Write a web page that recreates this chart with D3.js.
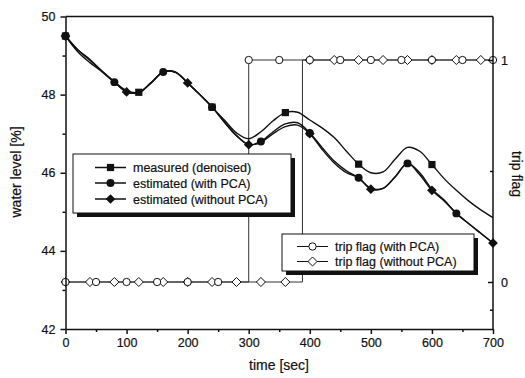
<!DOCTYPE html>
<html>
<head>
<meta charset="utf-8">
<script src="https://cdn.jsdelivr.net/npm/d3@7"></script>
<style>
  body { margin: 0; background: #fff; }
  svg text { font-family: "Liberation Sans", Arial, sans-serif; fill: #111; stroke: #111; stroke-width: 0.2; }
</style>
</head>
<body>
<div id="chart"></div>
<script>
// time axis, every 20 s
var times = d3.range(0, 701, 20);
var measured = [49.5, 49.15, 48.88, 48.6, 48.33, 48.1, 48.06, 48.3, 48.58, 48.58,
  48.3, 48.0, 47.68, 47.35, 47.02, 46.87, 47.05, 47.33, 47.54, 47.55,
  47.35, 47.15, 46.9, 46.55, 46.22, 46.0, 46.02, 46.35, 46.65, 46.55,
  46.21, 45.85, 45.55, 45.28, 45.05, 44.85];
var withPCA = [49.5, 49.15, 48.9, 48.6, 48.32, 48.07, 48.05, 48.3, 48.58, 48.57,
  48.3, 48.0, 47.68, 47.3, 46.95, 46.72, 46.8, 47.05, 47.25, 47.28,
  47.02, 46.65, 46.3, 46.05, 45.87, 45.6, 45.6, 45.9, 46.24, 46.0,
  45.58, 45.3, 44.96, 44.7, 44.45, 44.2];
var withoutPCA = [49.5, 49.1, 48.82, 48.58, 48.32, 48.07, 48.05, 48.3, 48.58, 48.57,
  48.3, 48.0, 47.68, 47.3, 46.95, 46.72, 46.78, 47.0, 47.18, 47.22,
  47.0, 46.6, 46.25, 46.0, 45.87, 45.58, 45.6, 45.9, 46.24, 45.95,
  45.55, 45.28, 44.96, 44.7, 44.45, 44.2];

// trip flags (step series) and where the markers sit
var tripWithTimes = [0, 300, 700];
var tripWithFlags = [0, 1, 1];
var tripWithoutTimes = [0, 388, 700];
var tripWithoutFlags = [0, 1, 1];
var tripWithMarks = d3.range(0, 701, 50);
var tripWithoutMarks = d3.range(0, 681, 40);

var xTicks = [0, 100, 200, 300, 400, 500, 600, 700];
var xMinor = [50, 150, 250, 350, 450, 550, 650];
var yTicks = [42, 44, 46, 48, 50];
var yMinor = [43, 45, 47, 49];
var flagTicks = [0, 1];
var flagMinor = [-0.125, 0.5];

var W = 525, H = 378;
var svg = d3.select('#chart').append('svg')
  .attr('width', W).attr('height', H);

var x = d3.scaleLinear().domain([0, 700]).range([65.5, 493]);
var y = d3.scaleLinear().domain([42, 50]).range([329, 16.5]);
var yf = d3.scaleLinear().domain([0, 1]).range([282, 60]);

function stepFlag(times, flags, t) {
  var v = flags[0];
  times.forEach(function (tt, i) { if (t >= tt) v = flags[i]; });
  return v;
}

// trip flag lines
var flagLine = d3.line()
  .x(function (d) { return x(d[0]); })
  .y(function (d) { return yf(d[1]); })
  .curve(d3.curveStepAfter);

svg.append('path')
  .datum(d3.zip(tripWithTimes, tripWithFlags))
  .attr('d', flagLine)
  .attr('fill', 'none').attr('stroke', '#333').attr('stroke-width', 1);
svg.append('path')
  .datum(d3.zip(tripWithoutTimes, tripWithoutFlags))
  .attr('d', flagLine)
  .attr('fill', 'none').attr('stroke', '#333').attr('stroke-width', 1);

// water level curves
var wl = d3.line()
  .x(function (d) { return x(d[0]); })
  .y(function (d) { return y(d[1]); })
  .curve(d3.curveCatmullRom);

[measured, withPCA, withoutPCA].forEach(function (s) {
  svg.append('path')
    .datum(d3.zip(times, s))
    .attr('d', wl)
    .attr('fill', 'none').attr('stroke', '#111').attr('stroke-width', 1.4);
});

var sq = d3.symbol().type(d3.symbolSquare).size(52);
var ci = d3.symbol().type(d3.symbolCircle).size(50);
var di = d3.symbol().type(d3.symbolDiamond2).size(60);
var oc = d3.symbol().type(d3.symbolCircle).size(42);
var od = d3.symbol().type(d3.symbolDiamond2).size(52);

function marks(s, every, sym) {
  svg.append('g').selectAll('path')
    .data(d3.zip(times, s).filter(function (d) { return d[0] % every === 0; }))
    .enter().append('path')
    .attr('d', sym)
    .attr('transform', function (d) { return 'translate(' + x(d[0]) + ',' + y(d[1]) + ')'; })
    .attr('fill', '#111');
}
marks(measured, 120, sq);
marks(withPCA, 80, ci);
marks(withoutPCA, 100, di);

// open markers on trip flags
svg.append('g').selectAll('path')
  .data(tripWithoutMarks).enter().append('path')
  .attr('d', od)
  .attr('transform', function (t) { return 'translate(' + x(t) + ',' + yf(stepFlag(tripWithoutTimes, tripWithoutFlags, t)) + ')'; })
  .attr('fill', '#fff').attr('stroke', '#111').attr('stroke-width', 1);
svg.append('g').selectAll('path')
  .data(tripWithMarks).enter().append('path')
  .attr('d', oc)
  .attr('transform', function (t) { return 'translate(' + x(t) + ',' + yf(stepFlag(tripWithTimes, tripWithFlags, t)) + ')'; })
  .attr('fill', '#fff').attr('stroke', '#111').attr('stroke-width', 1);

// axes
function styleAxis(g) {
  g.selectAll('path, line').attr('stroke', '#111').attr('stroke-width', 1.5);
  g.selectAll('text').attr('font-size', 12.5).attr('fill', '#111');
}
svg.append('g').attr('transform', 'translate(0,329)')
  .call(d3.axisBottom(x).tickValues(xTicks).tickSize(5).tickSizeOuter(0).tickPadding(4))
  .call(styleAxis);
svg.append('g').attr('transform', 'translate(0,329)')
  .call(d3.axisBottom(x).tickValues(xMinor).tickSize(3).tickFormat(''))
  .call(styleAxis).select('.domain').remove();
svg.append('g').attr('transform', 'translate(65.5,0)')
  .call(d3.axisLeft(y).tickValues(yTicks).tickSize(5).tickSizeOuter(0).tickPadding(5))
  .call(styleAxis);
svg.append('g').attr('transform', 'translate(65.5,0)')
  .call(d3.axisLeft(y).tickValues(yMinor).tickSize(3).tickFormat(''))
  .call(styleAxis).select('.domain').remove();
svg.append('g').attr('transform', 'translate(493,0)')
  .call(d3.axisRight(yf).tickValues(flagTicks).tickSizeInner(-5).tickSizeOuter(0).tickPadding(8).tickFormat(d3.format('d')))
  .call(styleAxis).select('.domain').remove();
svg.append('g').attr('transform', 'translate(493,0)')
  .call(d3.axisRight(yf).tickValues(flagMinor).tickSizeInner(-3).tickFormat(''))
  .call(styleAxis).select('.domain').remove();
svg.append('line').attr('x1', 493).attr('x2', 493).attr('y1', 16.5).attr('y2', 329)
  .attr('stroke', '#111').attr('stroke-width', 1.5);
svg.append('line').attr('x1', 65.5).attr('x2', 493).attr('y1', 16.5).attr('y2', 16.5)
  .attr('stroke', '#111').attr('stroke-width', 1.5);

// axis titles
svg.append('text').attr('transform', 'translate(21,172) rotate(-90)')
  .attr('text-anchor', 'middle').attr('font-size', 14).text('water level [%]');
svg.append('text').attr('transform', 'translate(512,174) rotate(90)')
  .attr('text-anchor', 'middle').attr('font-size', 14).text('trip flag');
svg.append('text').attr('x', 279).attr('y', 370)
  .attr('text-anchor', 'middle').attr('font-size', 14).text('time [sec]');

// legends
function legend(x0, y0, w, h, items, lw) {
  var g = svg.append('g');
  g.append('rect').attr('x', x0 + 4).attr('y', y0 + 4).attr('width', w).attr('height', h).attr('fill', '#111');
  g.append('rect').attr('x', x0).attr('y', y0).attr('width', w).attr('height', h)
    .attr('fill', '#fff').attr('stroke', '#111').attr('stroke-width', 1);
  items.forEach(function (it, i) {
    var yy = y0 + it.dy;
    g.append('line').attr('x1', x0 + it.lx).attr('x2', x0 + it.lx + 31).attr('y1', yy).attr('y2', yy)
      .attr('stroke', '#111').attr('stroke-width', lw);
    g.append('path').attr('d', it.sym)
      .attr('transform', 'translate(' + (x0 + it.lx + 15.5) + ',' + yy + ')')
      .attr('fill', it.open ? '#fff' : '#111').attr('stroke', '#111').attr('stroke-width', it.open ? 1 : 0);
    g.append('text').attr('x', x0 + it.lx + 38).attr('y', yy + 4.5)
      .attr('font-size', 12.5).text(it.label);
  });
}
legend(73, 154, 218, 59, [
  { label: 'measured (denoised)', sym: sq, dy: 13.5, lx: 22 },
  { label: 'estimated (with PCA)', sym: ci, dy: 29, lx: 22 },
  { label: 'estimated (without PCA)', sym: di, dy: 45, lx: 22 }
], 1.5);
legend(282, 234, 192, 37, [
  { label: 'trip flag (with PCA)', sym: oc, dy: 12.5, lx: 15, open: true },
  { label: 'trip flag (without PCA)', sym: od, dy: 27.5, lx: 15, open: true }
], 1);
</script>
</body>
</html>
